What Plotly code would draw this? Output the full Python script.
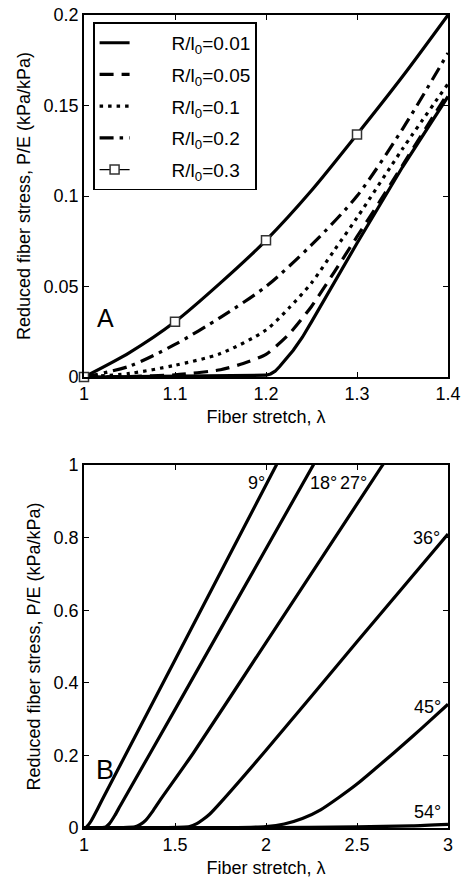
import plotly.graph_objects as go

# ---------------- Panel A data ----------------
lam_001 = [1.0, 1.1, 1.15, 1.2, 1.205, 1.21, 1.215, 1.22, 1.225, 1.23, 1.24, 1.25, 1.3, 1.35, 1.4]
p_001 = [0.0, 0.0003, 0.0006, 0.001, 0.0017, 0.0032, 0.0058, 0.009, 0.0115, 0.0148, 0.022, 0.0305, 0.0739, 0.116, 0.155]

lam_005 = [1.0, 1.05, 1.1, 1.15, 1.175, 1.2, 1.225, 1.25, 1.275, 1.3, 1.325, 1.35, 1.375, 1.4]
p_005 = [0.0, 0.0003, 0.0012, 0.004, 0.0075, 0.0125, 0.0235, 0.039, 0.058, 0.0775, 0.097, 0.117, 0.137, 0.157]

lam_01 = [1.0, 1.05, 1.1, 1.15, 1.2, 1.225, 1.25, 1.275, 1.3, 1.35, 1.4]
p_01 = [0.0, 0.002, 0.0065, 0.013, 0.026, 0.038, 0.052, 0.070, 0.088, 0.126, 0.162]

lam_02 = [1.0, 1.05, 1.1, 1.15, 1.2, 1.25, 1.3, 1.35, 1.4]
p_02 = [0.0, 0.006, 0.018, 0.033, 0.050, 0.073, 0.100, 0.137, 0.179]

lam_03 = [1.0, 1.05, 1.1, 1.15, 1.2, 1.25, 1.3, 1.35, 1.4]
p_03 = [0.0, 0.0135, 0.0305, 0.052, 0.0755, 0.103, 0.134, 0.166, 0.200]

lam_03_marks = [1.0, 1.1, 1.2, 1.3]
p_03_marks = [0.0, 0.0305, 0.0755, 0.134]

legend_labels = ["R/l<sub>0</sub>=0.01", "R/l<sub>0</sub>=0.05", "R/l<sub>0</sub>=0.1",
                 "R/l<sub>0</sub>=0.2", "R/l<sub>0</sub>=0.3"]

# ---------------- Panel B data ----------------
lam_09 = [1.0, 1.01, 1.02, 1.04, 1.07, 1.1, 1.5, 2.057, 2.1]
p_09 = [0.0, 0.001, 0.006, 0.02, 0.048, 0.078, 0.463, 1.0, 1.041]

lam_18 = [1.0, 1.1, 1.12, 1.14, 1.17, 1.2, 1.5, 2.26, 2.3]
p_18 = [0.0, 0.001, 0.003, 0.012, 0.035, 0.062, 0.326, 1.0, 1.035]

lam_27 = [1.0, 1.2, 1.28, 1.31, 1.34, 1.38, 1.42, 1.6, 2.0, 2.641, 2.7]
p_27 = [0.0, 0.001, 0.003, 0.01, 0.022, 0.048, 0.078, 0.206, 0.511, 1.0, 1.045]

lam_36 = [1.0, 1.4, 1.58, 1.62, 1.65, 1.69, 1.75, 2.0, 2.5, 3.0]
p_36 = [0.0, 0.001, 0.004, 0.012, 0.022, 0.038, 0.07, 0.214, 0.513, 0.81]

lam_45 = [1.0, 1.8, 2.0, 2.1, 2.2, 2.3, 2.4, 2.5, 2.6, 2.7, 2.8, 2.9, 3.0]
p_45 = [0.0, 0.001, 0.004, 0.011, 0.026, 0.05, 0.084, 0.121, 0.163, 0.206, 0.25, 0.295, 0.341]

lam_54 = [1.0, 2.0, 2.5, 2.8, 3.0]
p_54 = [0.0, 0.001, 0.003, 0.006, 0.01]

angle_labels = ["9°", "18°", "27°", "36°", "45°", "54°"]

top_x_ticks = [1, 1.1, 1.2, 1.3, 1.4]
top_y_ticks = [0, 0.05, 0.1, 0.15, 0.2]
bot_x_ticks = [1, 1.5, 2, 2.5, 3]
bot_y_ticks = [0, 0.2, 0.4, 0.6, 0.8, 1]

FONT = "Liberation Sans, Arial, Helvetica, sans-serif"
LW = 3.2
K = "black"
PAD = "\u00a0" * 7  # pushes legend text right, as in the reference's wide legend

fig = go.Figure()

# Panel A curves
fig.add_trace(go.Scatter(x=lam_001, y=p_001, mode="lines", name=PAD + legend_labels[0],
                         legendgroup="g1",
                         line=dict(color=K, width=LW), xaxis="x", yaxis="y"))
fig.add_trace(go.Scatter(x=lam_005, y=p_005, mode="lines", name=PAD + legend_labels[1],
                         legendgroup="g2",
                         line=dict(color=K, width=LW, dash="14px,8px", shape="spline", smoothing=0.6),
                         xaxis="x", yaxis="y"))
fig.add_trace(go.Scatter(x=lam_01, y=p_01, mode="lines", name=PAD + legend_labels[2],
                         legendgroup="g3",
                         line=dict(color=K, width=LW, dash="3.5px,5px", shape="spline", smoothing=0.8),
                         xaxis="x", yaxis="y"))
fig.add_trace(go.Scatter(x=lam_02, y=p_02, mode="lines", name=PAD + legend_labels[3],
                         legendgroup="g4",
                         line=dict(color=K, width=LW, dash="14px,6px,3.5px,6px", shape="spline", smoothing=0.8),
                         xaxis="x", yaxis="y"))
fig.add_trace(go.Scatter(x=lam_03, y=p_03, mode="lines", showlegend=False, legendgroup="g5",
                         line=dict(color=K, width=LW, shape="spline", smoothing=0.8),
                         xaxis="x", yaxis="y"))
fig.add_trace(go.Scatter(x=lam_03_marks, y=p_03_marks, mode="markers", showlegend=False,
                         legendgroup="g5",
                         marker=dict(symbol="square", size=9, color="white",
                                     line=dict(color="#333333", width=1.5)),
                         cliponaxis=False, xaxis="x", yaxis="y"))
# legend entry for R/l0=0.3 (thin line with square)
fig.add_trace(go.Scatter(x=[None], y=[None], mode="lines+markers", name=PAD + legend_labels[4],
                         legendgroup="g5",
                         line=dict(color=K, width=1.3),
                         marker=dict(symbol="square", size=9, color="white",
                                     line=dict(color="#333333", width=1.5)),
                         xaxis="x", yaxis="y"))

# Panel B curves
for lx, py in [(lam_09, p_09), (lam_18, p_18), (lam_27, p_27),
               (lam_36, p_36), (lam_45, p_45), (lam_54, p_54)]:
    fig.add_trace(go.Scatter(x=lx, y=py, mode="lines", showlegend=False,
                             line=dict(color=K, width=LW, shape="spline", smoothing=0.6),
                             xaxis="x2", yaxis="y2"))

axis_common = dict(showline=True, linecolor=K, linewidth=1.6, mirror="ticks",
                   ticks="inside", ticklen=5, tickwidth=1.2, tickcolor=K,
                   showgrid=False, zeroline=False, automargin=False,
                   tickfont=dict(family=FONT, size=18, color=K))

title_font = dict(family=FONT, size=18, color=K)

fig.update_layout(
    width=466, height=879,
    margin=dict(l=84, r=18, t=15, b=51),
    paper_bgcolor="white", plot_bgcolor="white",
    font=dict(family=FONT, size=18, color=K),
    xaxis=dict(axis_common, domain=[0, 1], range=[1, 1.4], tickvals=top_x_ticks,
               anchor="y", title=dict(text="Fiber stretch, λ", font=title_font, standoff=7)),
    yaxis=dict(axis_common, domain=[0.5547, 1], range=[0, 0.2], tickvals=top_y_ticks,
               anchor="x", title=dict(text="Reduced fiber stress, P/E (kPa/kPa)",
                                      font=title_font, standoff=8)),
    xaxis2=dict(axis_common, domain=[0, 1], range=[1, 3], tickvals=bot_x_ticks,
                anchor="y2", title=dict(text="Fiber stretch, λ", font=title_font, standoff=7)),
    yaxis2=dict(axis_common, domain=[0, 0.4465], range=[0, 1], tickvals=bot_y_ticks,
                anchor="x2", title=dict(text="Reduced fiber stress, P/E (kPa/kPa)",
                                        font=title_font, standoff=8)),
    legend=dict(x=0.0247, y=0.991, xanchor="left", yanchor="top",
                bgcolor="white", bordercolor=K, borderwidth=1.6,
                font=dict(family=FONT, size=19, color=K),
                traceorder="grouped", tracegroupgap=4),
    showlegend=True,
)

ann = [
    dict(text="A", x=1.024, y=0.0324, xref="x", yref="y", showarrow=False,
         font=dict(family=FONT, size=25, color=K)),
    dict(text="B", x=1.115, y=0.16, xref="x2", yref="y2", showarrow=False,
         font=dict(family=FONT, size=27, color=K)),
    dict(text=angle_labels[0], x=2.004, y=0.95, xref="x2", yref="y2", xanchor="right",
         showarrow=False, font=dict(family=FONT, size=18, color=K)),
    dict(text=angle_labels[1], x=2.231, y=0.95, xref="x2", yref="y2", xanchor="left",
         showarrow=False, font=dict(family=FONT, size=18, color=K)),
    dict(text=angle_labels[2], x=2.396, y=0.95, xref="x2", yref="y2", xanchor="left",
         showarrow=False, font=dict(family=FONT, size=18, color=K)),
    dict(text=angle_labels[3], x=2.965, y=0.798, xref="x2", yref="y2", xanchor="right",
         showarrow=False, font=dict(family=FONT, size=18, color=K)),
    dict(text=angle_labels[4], x=2.974, y=0.334, xref="x2", yref="y2", xanchor="right",
         showarrow=False, font=dict(family=FONT, size=18, color=K)),
    dict(text=angle_labels[5], x=2.971, y=0.045, xref="x2", yref="y2", xanchor="right",
         showarrow=False, font=dict(family=FONT, size=18, color=K)),
]
fig.update_layout(annotations=ann)

fig.write_html("out.html")
